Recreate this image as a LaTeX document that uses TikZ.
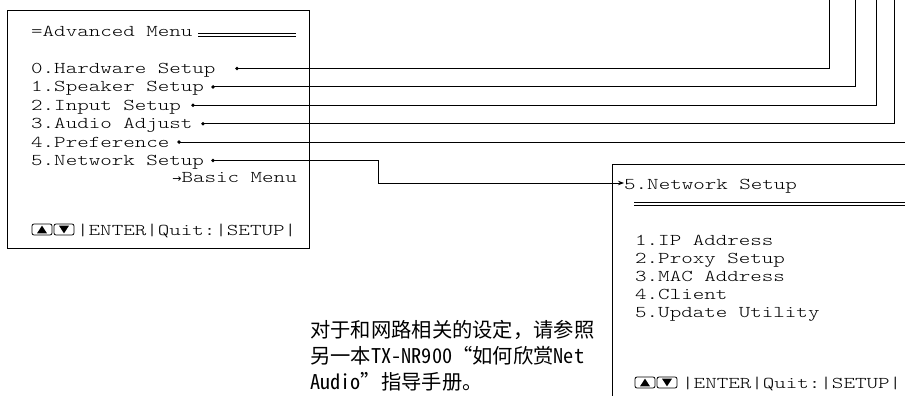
\documentclass[tikz,border=0pt]{standalone}
\usepackage{fontspec}
\setmonofont{lmmonolt10-regular.otf}[FakeStretch=1.33]
\newfontfamily\cjk{Noto Sans CJK SC}
\newfontfamily\cjkhw{Noto Sans CJK SC}[RawFeature=+hwid]
\newfontfamily\cjkfw{Noto Sans CJK SC}[RawFeature=+fwid]
\newfontfamily\symfont{DejaVu Sans}
\usetikzlibrary{arrows.meta}
\tikzset{
  mono/.style={font=\ttfamily\fontsize{16.5}{18}\selectfont, inner sep=0pt, anchor=base west},
  cjknote/.style={font=\cjk\fontsize{20.3}{26}\selectfont, inner sep=0pt, anchor=base west},
  wire/.style={line width=0.9pt},
  frame/.style={line width=1pt},
  dotc/.style={circle, fill, inner sep=0pt, minimum size=3.8pt},
  keypair/.pic={
    \draw[line width=0.8pt, rounded corners=2pt] (0,-5.5) rectangle (20,5.5);
    \fill (10,-3.8) -- (15,3.8) -- (5,3.8) -- cycle;
    \draw[line width=0.8pt, rounded corners=2pt] (22,-5.5) rectangle (42,5.5);
    \fill (27,-3.8) -- (37,-3.8) -- (32,3.8) -- cycle;
  }
}
\begin{document}
\begin{tikzpicture}[x=1pt,y=-1pt]
\useasboundingbox (0,0) rectangle (905,396);

% left box
\node[draw, frame, minimum width=302pt, minimum height=238pt, anchor=north west, inner sep=0pt] (lbox) at (7,10) {};
\node[mono] (title) at (31,37) {=Advanced Menu};
\draw[line width=0.8pt] (198,33) -- (296,33) (198,36.2) -- (296,36.2);
\node[mono] (n0) at (31,73.5) {0.Hardware Setup};
\node[mono] (n1) at (31,91.9) {1.Speaker Setup};
\node[mono] (n2) at (31,110.3) {2.Input Setup};
\node[mono] (n3) at (31,128.7) {3.Audio Adjust};
\node[mono] (n4) at (31,147.1) {4.Preference};
\node[mono] (n5) at (31,165.5) {5.Network Setup};
\node[mono, anchor=base east] (basic) at (297,182) {{\symfont\fontsize{11}{12}\selectfont →}Basic Menu};
\pic at (32,229.5) {keypair};
\node[mono] (foot1) at (77,235) {|ENTER|Quit:|SETUP|};

% dots
\node[dotc] (d0) at (237,68.5) {};
\node[dotc] (d1) at (213,86.9) {};
\node[dotc] (d2) at (193,105.3) {};
\node[dotc] (d3) at (203,123.7) {};
\node[dotc] (d4) at (179,142.1) {};
\node[dotc] (d5) at (213,160.5) {};

% free ends
\coordinate (e0) at (829,0);
\coordinate (e1) at (855,0);
\coordinate (e2) at (876,0);
\coordinate (e3) at (894,0);
\coordinate (e4) at (905,142.1);
\coordinate (k5) at (378,183);

\draw[wire] (d0.center) -- (e0 |- d0) -- (e0);
\draw[wire] (d1.center) -- (e1 |- d1) -- (e1);
\draw[wire] (d2.center) -- (e2 |- d2) -- (e2);
\draw[wire] (d3.center) -- (e3 |- d3) -- (e3);
\draw[wire] (d4.center) -- (e4);

% right box
\draw[frame] (905,164) -- (612,164) -- (612,396);
\node[mono] (rtitle) at (624,189) {5.Network Setup};
\draw[line width=0.8pt] (634,202) -- (905,202) (634,205.2) -- (905,205.2);
\node[mono] (r1) at (635,245) {1.IP Address};
\node[mono] (r2) at (635,263.2) {2.Proxy Setup};
\node[mono] (r3) at (635,281.4) {3.MAC Address};
\node[mono] (r4) at (635,299.6) {4.Client};
\node[mono] (r5) at (635,317.8) {5.Update Utility};
\pic at (635,382.5) {keypair};
\node[mono] (foot2) at (682,388) {|ENTER|Quit:|SETUP|};

\draw[wire, -{Stealth[length=6pt,width=4.5pt]}] (d5.center) -| (k5) -- (k5 -| rtitle.west);

% note
\node[cjknote] (note1) at (310,337) {对于和网路相关的设定，请参照};
\node[cjknote] (note2) at (310,363) {另一本{\cjkhw TX-NR900}{\cjkfw “}如何欣赏{\cjkhw Net}};
\node[cjknote] (note3) at (310,389) {{\cjkhw Audio}{\cjkfw ”}指导手册。};
\end{tikzpicture}
\end{document}
